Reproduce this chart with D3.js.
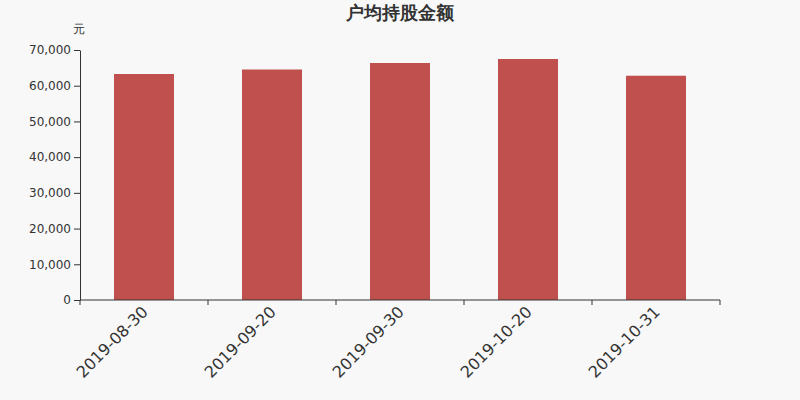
<!DOCTYPE html>
<html>
<head>
<meta charset="utf-8">
<script src="https://cdn.jsdelivr.net/npm/d3@7"></script>
<style>
  body { margin: 0; background: #f8f8f8; }
  svg { display: block; font-family: "DejaVu Sans", sans-serif; }
</style>
</head>
<body>
<div id="chart-area"></div>
<script>
const dates = ["2019-08-30", "2019-09-20", "2019-09-30", "2019-10-20", "2019-10-31"]
const amounts = [63280, 64540, 66360, 67480, 62800]
const yTicks = [0, 10000, 20000, 30000, 40000, 50000, 60000, 70000]

const MARGIN = { LEFT: 80, RIGHT: 80, TOP: 50, BOTTOM: 100 }
const WIDTH = 800 - MARGIN.LEFT - MARGIN.RIGHT
const HEIGHT = 400 - MARGIN.TOP - MARGIN.BOTTOM

const svg = d3.select("#chart-area").append("svg")
  .attr("width", 800)
  .attr("height", 400)

svg.append("rect").attr("width", 800).attr("height", 400).attr("fill", "#f8f8f8")

svg.append("text")
  .attr("x", 400).attr("y", 19)
  .attr("text-anchor", "middle")
  .attr("font-size", 18).attr("font-weight", "bold")
  .attr("fill", "#333")
  .text("户均持股金额")

svg.append("text")
  .attr("x", 79).attr("y", 33)
  .attr("text-anchor", "middle")
  .attr("font-size", 12)
  .attr("fill", "#333")
  .text("元")

const g = svg.append("g")
  .attr("transform", `translate(${MARGIN.LEFT}, ${MARGIN.TOP})`)

const xScale = d3.scaleBand()
  .domain(dates)
  .range([0, WIDTH])
  .padding(0)

const yScale = d3.scaleLinear()
  .domain([0, 70000])
  .range([HEIGHT, 0])

// bars are 60px wide inside a 128px band
const barW = xScale.bandwidth() * 60 / 128

g.selectAll(".bar")
  .data(dates)
  .enter().append("rect")
  .attr("class", "bar")
  .attr("x", (d) => xScale(d) + (xScale.bandwidth() - barW) / 2)
  .attr("width", barW)
  .attr("y", (d, i) => yScale(amounts[i]))
  .attr("height", (d, i) => HEIGHT - yScale(amounts[i]))
  .attr("fill", "#c0504d")

const yAxis = g.append("g")
  .call(d3.axisLeft(yScale).tickValues(yTicks).tickSizeOuter(0).tickFormat(d3.format(",")))
yAxis.selectAll("text").attr("font-size", 12).attr("fill", "#333").attr("font-family", "DejaVu Sans")
yAxis.selectAll("line").attr("stroke", "#333")
yAxis.select(".domain").attr("stroke", "#333")

// x axis: ticks at the band edges
const xAxis = g.append("g")
  .attr("transform", `translate(0, ${HEIGHT})`)
xAxis.append("line")
  .attr("x1", 0).attr("x2", WIDTH)
  .attr("stroke", "#333")
const edges = dates.map((d) => xScale(d)).concat([WIDTH])
xAxis.selectAll(".edge")
  .data(edges)
  .enter().append("line")
  .attr("x1", (d) => d).attr("x2", (d) => d)
  .attr("y1", 0).attr("y2", 5)
  .attr("stroke", "#333")
xAxis.selectAll(".lbl")
  .data(dates)
  .enter().append("text")
  .attr("transform", (d) => `translate(${xScale(d) + xScale.bandwidth() / 2 + 1}, 9) rotate(-45)`)
  .attr("text-anchor", "end")
  .attr("dy", "0.35em")
  .attr("font-size", 16)
  .attr("fill", "#333")
  .text((d) => d)
</script>
</body>
</html>
